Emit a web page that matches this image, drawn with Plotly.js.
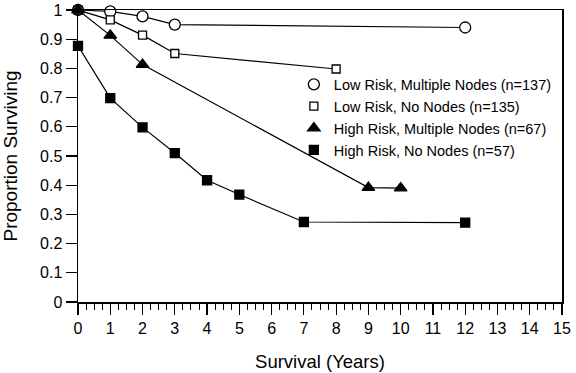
<!DOCTYPE html>
<html>
<head>
<meta charset="utf-8">
<script src="https://cdn.plot.ly/plotly-3.0.1.min.js"></script>
<style>html,body{margin:0;padding:0;background:#fff;}#chart{width:576px;height:373px;}</style>
</head>
<body>
<div id="chart"></div>
<script>
// Data
const seriesNames = [
  "Low Risk, Multiple Nodes (n=137)",
  "Low Risk, No Nodes (n=135)",
  "High Risk, Multiple Nodes (n=67)",
  "High Risk, No Nodes (n=57)"
];
const lowMultX = [0, 1, 2, 3, 12];
const lowMultY = [1.0, 0.995, 0.978, 0.950, 0.940];
const lowNoX = [0, 1, 2, 3, 8];
const lowNoY = [1.0, 0.966, 0.914, 0.851, 0.798];
const highMultX = [0, 1, 2, 9, 10];
const highMultY = [1.0, 0.913, 0.813, 0.392, 0.390];
const highNoX = [0, 1, 2, 3, 4, 5, 7, 12];
const highNoY = [0.877, 0.698, 0.598, 0.510, 0.417, 0.368, 0.274, 0.272];
const xTicks = [0,1,2,3,4,5,6,7,8,9,10,11,12,13,14,15];
const yTicks = [0,0.1,0.2,0.3,0.4,0.5,0.6,0.7,0.8,0.9,1];

const FONT = '"Liberation Sans", Arial, Helvetica, sans-serif';
const styles = [
  {symbol:'circle', size:11, color:'#fff'},
  {symbol:'square', size:8, color:'#fff'},
  {symbol:'triangle-up', size:11, color:'#000'},
  {symbol:'square', size:9, color:'#000'}
];
const xs = [lowMultX, lowNoX, highMultX, highNoX];
const ys = [lowMultY, lowNoY, highMultY, highNoY];

const traces = [];
for (let i = 0; i < 4; i++) {
  traces.push({
    x: xs[i], y: ys[i], type: 'scatter', mode: 'lines+markers',
    name: seriesNames[i], showlegend: false, cliponaxis: false,
    line: {color: '#000', width: 1.2},
    marker: {symbol: styles[i].symbol, size: styles[i].size, color: styles[i].color,
             line: {color: '#000', width: 1.3}}
  });
}
for (let i = 0; i < 4; i++) {
  traces.push({
    x: [null], y: [null], type: 'scatter', mode: 'markers',
    name: seriesNames[i], showlegend: true,
    marker: {symbol: styles[i].symbol, size: styles[i].size, color: styles[i].color,
             line: {color: '#000', width: 1.3}}
  });
}

const layout = {
  width: 576, height: 373,
  margin: {l: 78, r: 14, t: 10, b: 71},
  paper_bgcolor: '#fff', plot_bgcolor: '#fff',
  font: {family: FONT, color: '#000', size: 16},
  showlegend: true,
  legend: {
    x: 0.446, xanchor: 'left', y: 0.80, yanchor: 'top',
    bgcolor: 'rgba(0,0,0,0)', borderwidth: 0,
    font: {family: FONT, size: 14.5, color: '#000'},
    itemwidth: 30, tracegroupgap: 0
  },
  xaxis: {
    range: [0, 15], tickmode: 'array', tickvals: xTicks, ticktext: xTicks.map(String),
    ticks: 'outside', ticklen: 11, tickwidth: 1.2, tickcolor: '#000',
    minor: {dtick: 0.25, tick0: 0, ticks: 'outside', ticklen: 6, tickwidth: 1, tickcolor: '#000', showgrid: false},
    showline: true, linecolor: '#000', linewidth: 1.5, mirror: true,
    showgrid: false, zeroline: false,
    tickfont: {family: FONT, size: 16},
    title: {text: 'Survival (Years)', font: {family: FONT, size: 18.5}, standoff: 19}
  },
  yaxis: {
    range: [0, 1], tickmode: 'array', tickvals: yTicks, ticktext: yTicks.map(String),
    ticks: 'outside', ticklen: 11, tickwidth: 1.2, tickcolor: '#000',
    showline: true, linecolor: '#000', linewidth: 1.5, mirror: true,
    showgrid: false, zeroline: false,
    tickfont: {family: FONT, size: 16},
    title: {text: 'Proportion Surviving', font: {family: FONT, size: 19}, standoff: 18}
  }
};

Plotly.newPlot('chart', traces, layout, {staticPlot: true, displayModeBar: false});
</script>
</body>
</html>
